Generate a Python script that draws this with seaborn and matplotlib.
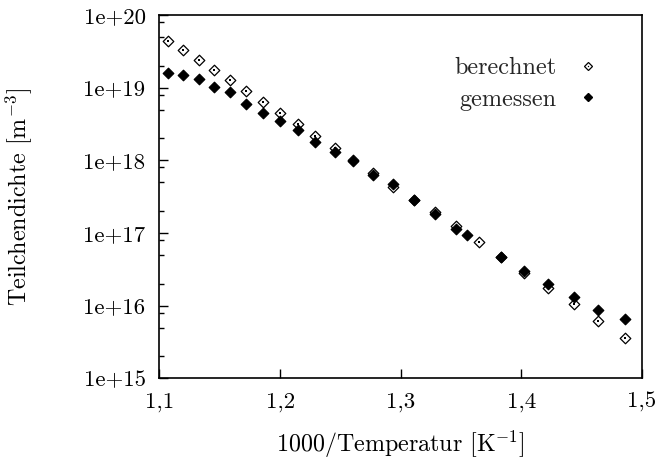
import numpy as np
import pandas as pd
import matplotlib
matplotlib.use("Agg")
import matplotlib.pyplot as plt
import seaborn as sns
from matplotlib.ticker import FixedLocator, LogLocator, NullFormatter
from matplotlib.legend_handler import HandlerTuple

# ---- data ----
x_berechnet = [1.1067, 1.1192, 1.1324, 1.1455, 1.1582, 1.1720, 1.1859, 1.2002,
               1.2146, 1.2293, 1.2451, 1.2606, 1.2768, 1.2938, 1.3106, 1.3283,
               1.3457, 1.3646, 1.3834, 1.4022, 1.4224, 1.4432, 1.4639, 1.4857]
y_berechnet = [4.43e19, 3.27e19, 2.40e19, 1.75e19, 1.26e19, 9.0e18, 6.41e18, 4.52e18,
               3.16e18, 2.18e18, 1.49e18, 9.95e17, 6.76e17, 4.34e17, 2.84e17, 1.92e17,
               1.26e17, 7.52e16, 4.72e16, 2.79e16, 1.76e16, 1.06e16, 6.21e15, 3.61e15]

x_gemessen = [1.1073, 1.1198, 1.1324, 1.1455, 1.1585, 1.1720, 1.1861, 1.2002,
              1.2146, 1.2293, 1.2451, 1.2606, 1.2768, 1.2938, 1.3106, 1.3283,
              1.3457, 1.3552, 1.3834, 1.4022, 1.4224, 1.4432, 1.4639, 1.4857]
y_gemessen = [1.61e19, 1.49e19, 1.30e19, 1.03e19, 8.71e18, 6.01e18, 4.44e18, 3.51e18,
              2.59e18, 1.77e18, 1.29e18, 9.79e17, 6.37e17, 4.72e17, 2.84e17, 1.80e17,
              1.13e17, 9.38e16, 4.72e16, 3.03e16, 1.97e16, 1.33e16, 8.71e15, 6.49e15]

series_names = ["berechnet", "gemessen"]
x_ticks = [1.1, 1.2, 1.3, 1.4, 1.5]
x_ticklabels = ["1,1", "1,2", "1,3", "1,4", "1,5"]
y_ticks = [1e15, 1e16, 1e17, 1e18, 1e19, 1e20]
y_ticklabels = ["1e+15", "1e+16", "1e+17", "1e+18", "1e+19", "1e+20"]
x_label = "1000/Temperatur [K$^{-1}$]"
y_label = "Teilchendichte [m$^{-3}$]"

df_b = pd.DataFrame({"x": x_berechnet, "y": y_berechnet})
df_g = pd.DataFrame({"x": x_gemessen, "y": y_gemessen})

sns.set_theme(style="white")
plt.rcParams["font.family"] = ["cmr10", "DejaVu Serif"]
plt.rcParams["mathtext.fontset"] = "cm"
plt.rcParams["axes.unicode_minus"] = False
plt.rcParams["axes.formatter.use_mathtext"] = True

FS = 16.5
FS_LAB = 17.3
FS_LEG = 17.5

fig = plt.figure(figsize=(6.61, 4.66), dpi=100)
ax = fig.add_axes([0.2413, 0.1882, 0.9713 - 0.2413, 0.9678 - 0.1882])

sns.scatterplot(data=df_b, x="x", y="y", ax=ax, marker="D", s=29,
                facecolor="white", edgecolor="black", linewidth=0.9, zorder=3)
ax.scatter(df_b["x"], df_b["y"], marker="s", s=1.0, color="black", linewidths=0, zorder=3.5)
sns.scatterplot(data=df_g, x="x", y="y", ax=ax, marker="D", s=29,
                color="black", edgecolor="black", linewidth=0.9, zorder=4)

ax.set_yscale("log")
ax.set_xlim(1.1, 1.5)
ax.set_ylim(1e15, 1e20)

ax.xaxis.set_major_locator(FixedLocator(x_ticks))
ax.set_xticklabels(x_ticklabels)
ax.yaxis.set_major_locator(FixedLocator(y_ticks))
ax.set_yticklabels(y_ticklabels)
ax.yaxis.set_minor_locator(LogLocator(base=10, subs=(2.0, 5.0, 8.0)))
ax.yaxis.set_minor_formatter(NullFormatter())
ax.xaxis.set_minor_locator(FixedLocator([]))

ax.tick_params(axis="both", which="major", direction="in", length=6.5, width=1.0,
               color="black", labelsize=FS, labelcolor="black")
ax.tick_params(axis="y", which="major", pad=10)
ax.tick_params(axis="x", which="major", pad=10)
ax.tick_params(axis="y", which="minor", direction="in", length=3.5, width=1.0, color="black", left=True)
ax.tick_params(top=False, right=False, bottom=True, left=True)

for sp in ax.spines.values():
    sp.set_color("black")
    sp.set_linewidth(1.2)

ax.set_xlabel(x_label, fontsize=FS_LAB, color="black")
ax.set_ylabel(y_label, fontsize=FS_LAB, color="black")
ax.xaxis.set_label_coords(0.5, -0.14)
ax.yaxis.set_label_coords(-0.258, 0.5)

# legend: text first, marker right
h_b_outer = plt.Line2D([], [], marker="D", linestyle="none", markersize=4.3,
                       markerfacecolor="white", markeredgecolor="black", markeredgewidth=0.9)
h_b_dot = plt.Line2D([], [], marker="s", linestyle="none", markersize=0.9,
                     markerfacecolor="black", markeredgecolor="black", markeredgewidth=0)
h_g = plt.Line2D([], [], marker="D", linestyle="none", markersize=4.3,
                 markerfacecolor="black", markeredgecolor="black")
leg = ax.legend([(h_b_outer, h_b_dot), h_g], series_names, loc="upper right",
                bbox_to_anchor=(0.913, 0.884), frameon=False, markerfirst=False,
                fontsize=FS_LEG, handlelength=1.0, handletextpad=0.8, labelspacing=0.38,
                borderpad=0, borderaxespad=0,
                handler_map={tuple: HandlerTuple(ndivide=1, pad=0)})

fig.savefig("out.png", dpi=100)
